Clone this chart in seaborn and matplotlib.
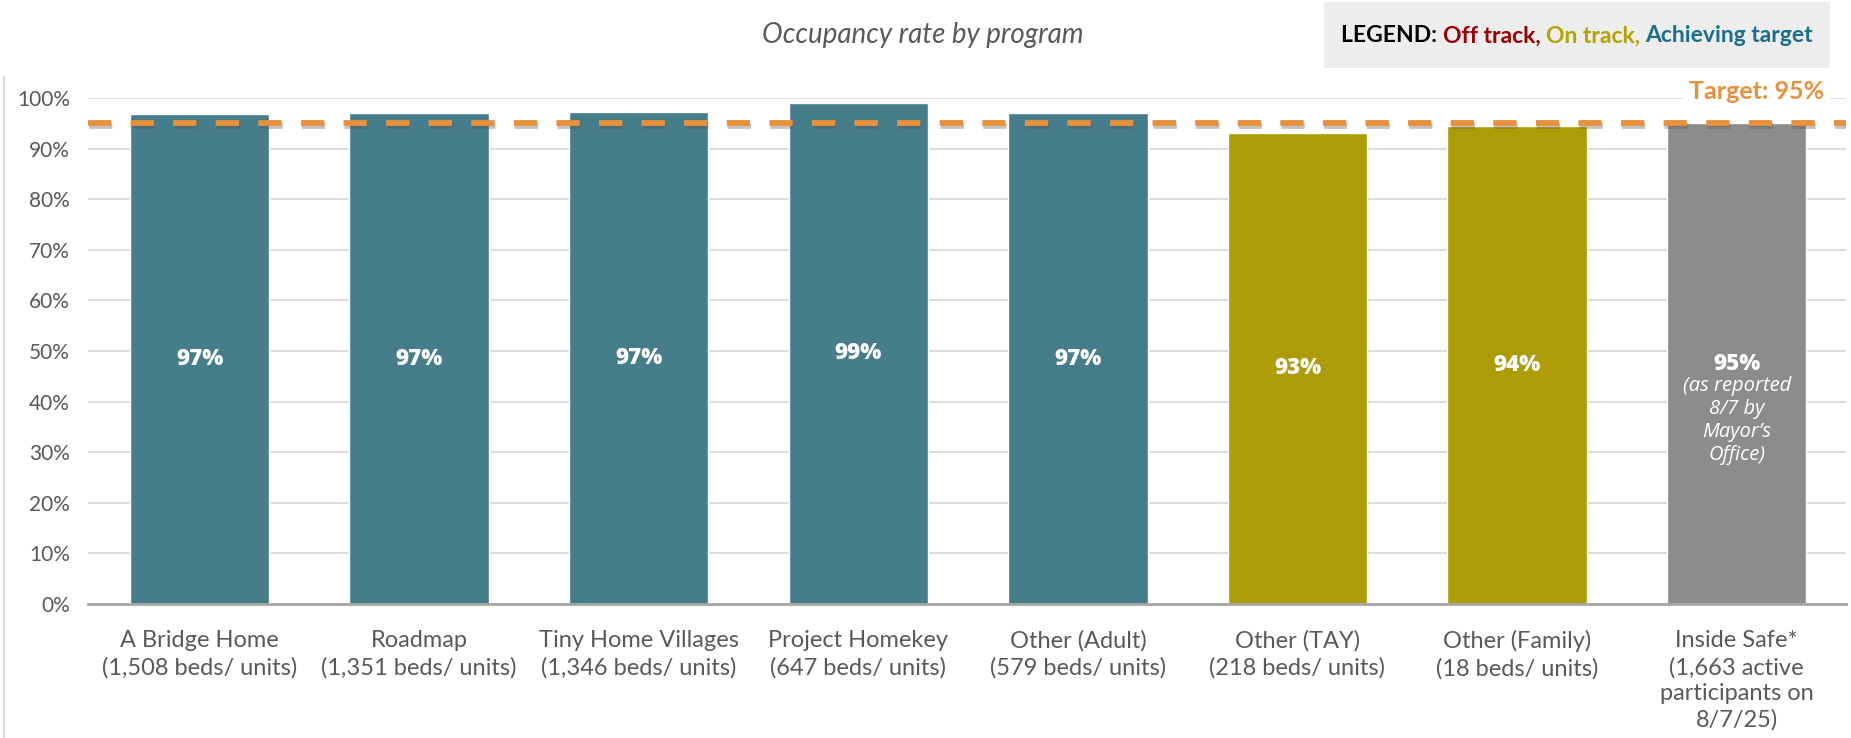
import numpy as np
import pandas as pd
import seaborn as sns
import matplotlib.pyplot as plt
import matplotlib.patheffects as pe
from matplotlib.lines import Line2D
from matplotlib.patches import Rectangle

# Data
programs = ["A Bridge Home\n(1,508 beds/ units)", "Roadmap\n(1,351 beds/ units)",
            "Tiny Home Villages\n(1,346 beds/ units)", "Project Homekey\n(647 beds/ units)",
            "Other (Adult)\n(579 beds/ units)", "Other (TAY)\n(218 beds/ units)",
            "Other (Family)\n(18 beds/ units)",
            "Inside Safe*\n(1,663 active\nparticipants on\n8/7/25)"]
occupancy = [0.968, 0.970, 0.973, 0.991, 0.970, 0.931, 0.944, 0.950]
value_labels = ["97%", "97%", "97%", "99%", "97%", "93%", "94%", "95%"]
status = ["achieving", "achieving", "achieving", "achieving", "achieving",
          "on", "on", "reported"]
target = 0.95

status_colors = {"achieving": "#467D8B", "on": "#AE9C07", "reported": "#8C8C8C"}

df = pd.DataFrame({"program": programs, "occupancy": occupancy, "status": status})

sns.set_theme(style="white")
plt.rcParams["font.family"] = ["Lato", "DejaVu Sans"]

fig = plt.figure(figsize=(18.51, 7.38), dpi=100)
ax = fig.add_axes([88 / 1851, 1 - 604 / 738, 1758 / 1851, 506 / 738])

sns.barplot(data=df, x="program", y="occupancy", hue="status",
            palette=status_colors, dodge=False, width=0.635,
            saturation=1, legend=False, ax=ax, zorder=2)

ax.set_ylim(0, 1.0)
ax.set_xlim(-0.508, 7.498)
ax.set_yticks(np.arange(0, 1.01, 0.1))
ax.set_yticklabels([f"{int(round(v * 100))}%" for v in np.arange(0, 1.01, 0.1)])
ax.yaxis.grid(True, color="#D9D9D9", linewidth=1.3, zorder=0)
ax.set_axisbelow(True)
for s in ["top", "right", "left"]:
    ax.spines[s].set_visible(False)
ax.spines["bottom"].set_color("#A6A6A6")
ax.spines["bottom"].set_linewidth(2)
ax.set_xlabel("")
ax.set_ylabel("")
ax.tick_params(axis="x", length=0, pad=19, labelsize=17, labelcolor="#595959")
ax.tick_params(axis="y", length=0, pad=13, labelsize=15, labelcolor="#595959")
for lab in ax.get_xticklabels():
    lab.set_linespacing(1.3)

# value labels inside bars
for i, (v, lab) in enumerate(zip(occupancy, value_labels)):
    ax.text(i, v / 2, lab, ha="center", va="center", color="white",
            fontsize=16, fontweight="heavy", family=["Open Sans", "DejaVu Sans"], zorder=4)
ax.text(7, occupancy[7] / 2 - 0.024, "(as reported\n8/7 by\nMayor’s\nOffice)",
        ha="center", va="top", color="white", fontsize=14.5, style="italic",
        family=["Open Sans", "DejaVu Sans"], linespacing=1.2, zorder=4)

# target line
ax.axhline(target, color="#E8913A", linewidth=4.2, dashes=(4.0, 3.3), zorder=5,
           path_effects=[pe.SimpleLineShadow(offset=(1, -2), shadow_color="#555555", alpha=0.35),
                         pe.Normal()])
ax.text(0.9875, 1.012, "Target: 95%", transform=ax.transAxes, ha="right", va="center",
        color="#E8913A", fontsize=18, fontweight="bold", clip_on=False, zorder=6,
        bbox=dict(facecolor="white", edgecolor="none", pad=4))

# title
fig.text(923 / 1851, 1 - 35 / 738, "Occupancy rate by program", ha="center", va="center",
         fontsize=20, style="italic", color="#595959")

# legend box
fig.patches.append(Rectangle((1324 / 1851, 1 - 68 / 738), 506 / 1851, 66 / 738,
                             transform=fig.transFigure, facecolor="#EDEDED",
                             edgecolor="none", zorder=0))
legend_parts = [("LEGEND: ", "black"), ("Off track, ", "#9B0000"),
                ("On track, ", "#B5A300"), ("Achieving target", "#1C6E8C")]
fig.canvas.draw()
renderer = fig.canvas.get_renderer()
x = 1341 / 1851
for txt, col in legend_parts:
    t = fig.text(x, 1 - 36 / 738, txt, ha="left", va="center", fontsize=16.5,
                 fontweight="bold", color=col)
    bb = t.get_window_extent(renderer=renderer)
    x += bb.width / fig.bbox.width

# left border line
fig.add_artist(Line2D([4 / 1851, 4 / 1851], [0, 1 - 77 / 738], transform=fig.transFigure,
                      color="#D9D9D9", linewidth=1.5))

fig.savefig("out.png", dpi=100)
